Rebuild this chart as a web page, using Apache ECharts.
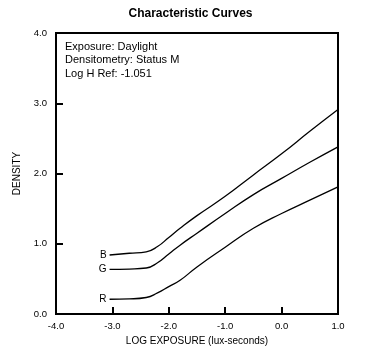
<!DOCTYPE html>
<html>
<head>
<meta charset="utf-8">
<script src="https://cdn.jsdelivr.net/npm/echarts@6/dist/echarts.min.js"></script>
<style>
html,body{margin:0;padding:0;background:#fff;}
#chart{width:381px;height:362px;}
</style>
</head>
<body>
<div id="chart"></div>
<script>
const logE = [-3.05, -2.7, -2.4, -2.2, -2.0, -1.8, -1.5, -1.0, -0.5, 0.0, 0.5, 1.0];
const densB = [0.84, 0.865, 0.885, 0.96, 1.09, 1.22, 1.40, 1.675, 1.98, 2.28, 2.60, 2.91];
const densG = [0.635, 0.64, 0.655, 0.73, 0.855, 0.98, 1.15, 1.43, 1.70, 1.93, 2.16, 2.38];
const densR = [0.21, 0.215, 0.235, 0.30, 0.39, 0.48, 0.67, 0.95, 1.22, 1.43, 1.62, 1.81];
const curveNames = ['B', 'G', 'R'];
const xTicks = [-4, -3, -2, -1, 0, 1];
const yTicks = [0, 1, 2, 3, 4];
const infoLines = ['Exposure: Daylight', 'Densitometry: Status M', 'Log H Ref: -1.051'];

const FONT = '"Liberation Sans", Arial, Helvetica, sans-serif';

function build(name, vals) {
  return logE.map((x, i) => {
    if (i === 0) {
      return {
        value: [x, vals[i]],
        label: {show: true, formatter: name, position: 'left', distance: 3,
                color: '#000', fontSize: 10, fontFamily: FONT}
      };
    }
    return [x, vals[i]];
  });
}

const chart = echarts.init(document.getElementById('chart'), null, {renderer: 'canvas'});
const seriesData = [densB, densG, densR];
chart.setOption({
  animation: false,
  backgroundColor: '#fff',
  title: {
    text: 'Characteristic Curves',
    left: 'center',
    top: 3,
    textStyle: {fontSize: 12, fontWeight: 'bold', color: '#000', fontFamily: FONT}
  },
  grid: {
    left: 56, right: 43, top: 33, bottom: 48,
    show: true, borderColor: '#000', borderWidth: 2, backgroundColor: 'transparent'
  },
  xAxis: {
    type: 'value', min: xTicks[0], max: xTicks[xTicks.length - 1], interval: 1,
    name: 'LOG EXPOSURE (lux-seconds)', nameLocation: 'middle', nameGap: 21,
    nameTextStyle: {fontSize: 10, color: '#000', fontFamily: FONT},
    axisLine: {onZero: false, lineStyle: {color: '#000', width: 2}},
    axisTick: {inside: true, length: 7, lineStyle: {color: '#000', width: 2}},
    axisLabel: {fontSize: 9.5, color: '#000', margin: 7, fontFamily: FONT,
                formatter: v => v.toFixed(1)},
    splitLine: {show: false}
  },
  yAxis: {
    type: 'value', min: yTicks[0], max: yTicks[yTicks.length - 1], interval: 1,
    name: 'DENSITY', nameLocation: 'middle', nameGap: 34, nameRotate: 90,
    nameTextStyle: {fontSize: 10, color: '#000', fontFamily: FONT},
    axisLine: {onZero: false, lineStyle: {color: '#000', width: 2}},
    axisTick: {inside: true, length: 7, lineStyle: {color: '#000', width: 2}},
    axisLabel: {fontSize: 9.5, color: '#000', margin: 9, fontFamily: FONT,
                formatter: v => v.toFixed(1)},
    splitLine: {show: false}
  },
  graphic: [{
    type: 'text', left: 65, top: 40,
    style: {text: infoLines.join('\n'), fontSize: 11, lineHeight: 13.5,
            fill: '#000', fontFamily: FONT}
  }],
  series: curveNames.map((n, k) => ({
    type: 'line', name: n, data: build(n, seriesData[k]),
    smooth: 0.5, showSymbol: true, symbol: 'circle', symbolSize: 0,
    lineStyle: {color: '#000', width: 1.3},
    itemStyle: {color: '#000'}
  }))
});
</script>
</body>
</html>
